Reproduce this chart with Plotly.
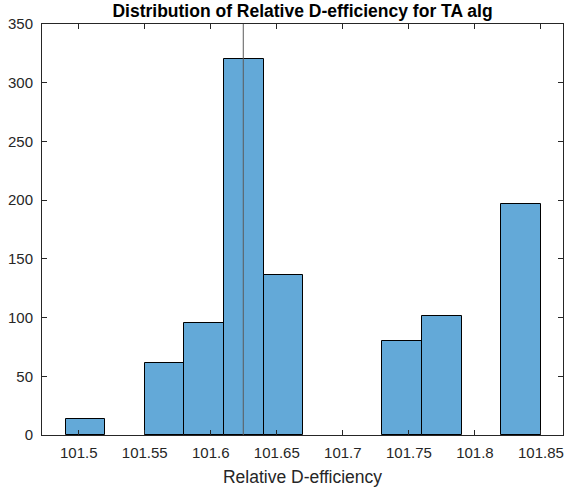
import plotly.graph_objects as go

# Histogram data (bin edges, counts)
bin_edges = [101.49, 101.52, 101.55, 101.58, 101.61, 101.64, 101.67,
             101.70, 101.73, 101.76, 101.79, 101.82, 101.85]
counts = [14, 0, 61, 95, 320, 136, 0, 0, 80, 101, 0, 197]
ref_value = 101.6246

x_ticks = [101.5, 101.55, 101.6, 101.65, 101.7, 101.75, 101.8, 101.85]
x_tick_labels = ["101.5", "101.55", "101.6", "101.65", "101.7", "101.75", "101.8", "101.85"]
y_ticks = [0, 50, 100, 150, 200, 250, 300, 350]

centers, heights, widths = [], [], []
for i, c in enumerate(counts):
    if c > 0:
        centers.append((bin_edges[i] + bin_edges[i + 1]) / 2)
        widths.append(bin_edges[i + 1] - bin_edges[i])
        heights.append(c)

txt = "#262626"
axc = "#262626"
W, H = 565, 491
L, R, T, B = 42, 2, 24, 56

fig = go.Figure()
fig.add_trace(go.Bar(
    x=centers, y=heights, width=widths,
    marker=dict(color="rgb(99,169,216)", line=dict(color="#000000", width=1)),
    showlegend=False,
))
fig.add_vline(x=ref_value, line=dict(color="#5a5a5a", width=1), layer="above")

fig.update_layout(
    width=W, height=H,
    margin=dict(l=L, r=R, t=T, b=B),
    paper_bgcolor="white", plot_bgcolor="white",
    font=dict(family="Liberation Sans, Arial, sans-serif", color=txt, size=15),
    title=dict(text="<b>Distribution of Relative D-efficiency for TA alg</b>",
               x=(L + W - R) / 2 / W, xanchor="center", y=1 - 11 / H, yanchor="middle",
               font=dict(size=17.5, color="#000000")),
    bargap=0,
)
fig.update_xaxes(
    range=[101.4722, 101.8667],
    tickvals=x_ticks, ticktext=x_tick_labels,
    ticks="inside", ticklen=5, tickcolor=axc, tickwidth=1,
    showline=True, linecolor=axc, linewidth=1, mirror="ticks",
    showgrid=False, zeroline=False, automargin=False,
    title=dict(text="Relative D-efficiency", font=dict(size=17.5, color=txt), standoff=10),
    tickfont=dict(size=15, color=txt),
    ticklabelstandoff=4,
)
fig.update_yaxes(
    range=[0, 350],
    tickvals=y_ticks,
    ticks="inside", ticklen=5, tickcolor=axc, tickwidth=1,
    showline=True, linecolor=axc, linewidth=1, mirror="ticks",
    showgrid=False, zeroline=False, automargin=False,
    tickfont=dict(size=15, color=txt),
    ticklabelstandoff=5,
)

fig.write_html("out.html", config={"displayModeBar": False},
               post_script="document.body.style.margin='0';document.body.style.padding='0';")
